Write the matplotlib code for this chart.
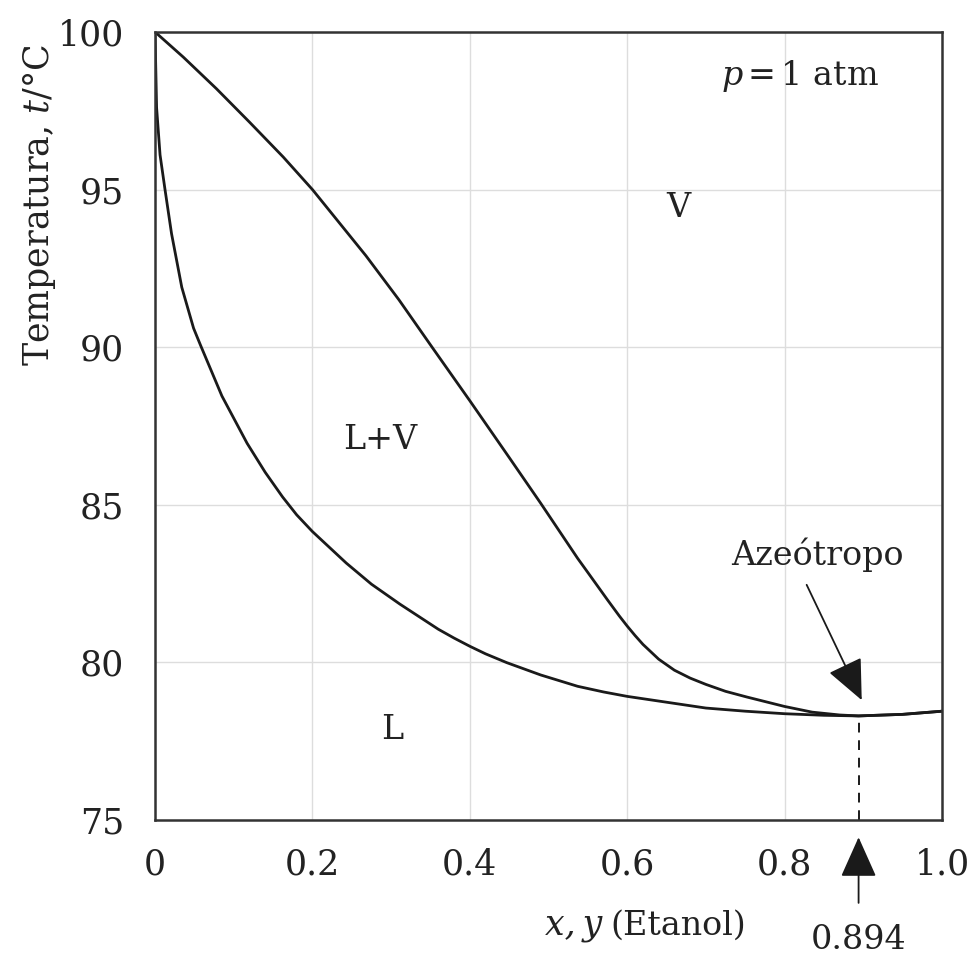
import matplotlib
matplotlib.use("Agg")
import matplotlib.pyplot as plt

# liquid (bubble point) curve
x_liq = [0, 0.002, 0.0064, 0.0127, 0.021, 0.034, 0.049, 0.058, 0.085, 0.117,
         0.14, 0.162, 0.18, 0.20, 0.243, 0.275, 0.311, 0.36, 0.38, 0.40,
         0.42, 0.447, 0.49, 0.537, 0.57, 0.60, 0.70, 0.75, 0.80, 0.85,
         0.894, 0.95, 1.0]
t_liq = [100, 97.6, 96.1, 95.0, 93.6, 91.9, 90.6, 90.05, 88.45, 86.95,
         86.03, 85.25, 84.68, 84.15, 83.15, 82.48, 81.85, 81.05, 80.77, 80.51,
         80.27, 79.99, 79.6, 79.24, 79.06, 78.92, 78.55, 78.45, 78.37, 78.32,
         78.3, 78.35, 78.45]

# vapour (dew point) curve
x_vap = [0, 0.036, 0.078, 0.12, 0.163, 0.20, 0.234, 0.268, 0.31, 0.352, 0.40,
         0.45, 0.49, 0.537, 0.55, 0.575, 0.59, 0.60, 0.61, 0.62, 0.64, 0.66,
         0.68, 0.70, 0.725, 0.752, 0.80, 0.835, 0.87, 0.894, 0.95, 1.0]
t_vap = [100, 99.2, 98.2, 97.14, 96.03, 95.0, 93.95, 92.9, 91.5, 90.0, 88.3,
         86.5, 85.05, 83.3, 82.85, 81.98, 81.47, 81.15, 80.85, 80.57, 80.1, 79.75,
         79.5, 79.3, 79.08, 78.9, 78.6, 78.42, 78.33, 78.3, 78.35, 78.45]

azeo_x = 0.894
azeo_t = 78.3

x_ticks = [0, 0.2, 0.4, 0.6, 0.8, 1.0]
x_ticklabels = ["0", "0.2", "0.4", "0.6", "0.8", "1.0"]
y_ticks = [75, 80, 85, 90, 95, 100]

plt.rcParams["font.family"] = ["DejaVu Serif"]
plt.rcParams["mathtext.fontset"] = "custom"
plt.rcParams["mathtext.rm"] = "DejaVu Serif"
plt.rcParams["mathtext.it"] = "DejaVu Serif:italic"

fig = plt.figure(figsize=(9.78, 9.59), dpi=100)
ax = fig.add_axes([0.1585, 0.145, 0.8047, 0.8217])

ink = "#1a1a1a"
ax.plot(x_liq, t_liq, color=ink, lw=2.0, solid_capstyle="round", solid_joinstyle="round")
ax.plot(x_vap, t_vap, color=ink, lw=2.0, solid_capstyle="round", solid_joinstyle="round")
ax.plot([azeo_x, azeo_x], [75, azeo_t], color=ink, lw=1.4, ls=(0, (5, 4)))

ax.set_xlim(0, 1.0)
ax.set_ylim(75, 100)
ax.set_xticks(x_ticks)
ax.set_xticklabels(x_ticklabels)
ax.set_yticks(y_ticks)
ax.tick_params(length=0, labelsize=25, colors="#222222")
ax.tick_params(axis="y", pad=22)
ax.tick_params(axis="x", pad=20)
ax.grid(True, color="#dddddd", lw=1.0)
ax.set_axisbelow(True)
for s in ax.spines.values():
    s.set_linewidth(1.8)
    s.set_color("#333333")

txt = "#222222"
ax.text(0.82, 98.6, r"$p$$\,$=$\,$1 atm", fontsize=24, ha="center", va="center", color=txt)
ax.text(0.665, 94.4, "V", fontsize=24, ha="center", va="center", color=txt)
ax.text(0.286, 87.05, "L+V", fontsize=24, ha="center", va="center", color=txt)
ax.text(0.302, 77.85, "L", fontsize=24, ha="center", va="center", color=txt)

ax.text(0.842, 83.4, "Azeótropo", fontsize=24, ha="center", va="center", color=txt)
ax.annotate("", xy=(0.898, 78.8), xytext=(0.828, 82.46),
            arrowprops=dict(arrowstyle="-|>,head_length=0.85,head_width=0.38",
                            mutation_scale=30, lw=1.3, color=ink,
                            shrinkA=0, shrinkB=0))

ax.annotate("0.894", xy=(azeo_x, 74.45), xytext=(azeo_x, 71.2),
            fontsize=24, ha="center", va="center", color=txt,
            annotation_clip=False,
            arrowprops=dict(arrowstyle="-|>,head_length=0.85,head_width=0.38",
                            mutation_scale=30, lw=1.3, color=ink,
                            shrinkA=13, shrinkB=0))

fig.text(602 / 978, 1 - 935 / 959, "x,\u2009y", fontsize=25, style="italic",
         ha="right", va="baseline", color=txt)
fig.text(610 / 978, 1 - 935 / 959, "(Etanol)", fontsize=24, ha="left",
         va="baseline", color=txt)
fig.text(40 / 978, 1 - 205 / 959, r"Temperatura, $t$/°C", fontsize=25,
         rotation=90, ha="center", va="center", color=txt)

fig.savefig("out.png", dpi=100)
